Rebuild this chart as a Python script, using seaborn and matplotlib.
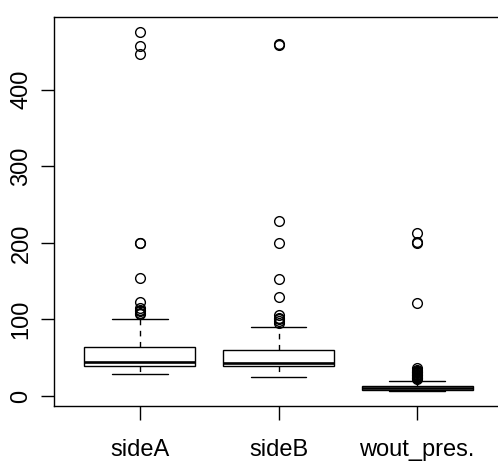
import numpy as np
import pandas as pd
import matplotlib
matplotlib.use("Agg")
import matplotlib.pyplot as plt
import seaborn as sns

# ---- data ----
categories = ["sideA", "sideB", "wout_pres."]

side_a = [29, 31, 33, 34, 35, 35.5, 36, 36.5, 37, 37, 37.5, 38, 38, 38.2, 38.4, 38.6,
          39, 39.5, 40, 40.5, 41, 41.5, 42, 42.5, 43, 43, 43.5, 44, 44, 44.2, 44.5,
          46, 48, 50, 52, 54, 55, 56, 57, 58, 59, 60, 61, 62, 63, 64,
          72, 85, 101,
          106.5, 108, 110.8, 113, 115.6, 123, 154, 200, 200, 447, 457, 476]

side_b = [24.8, 28, 31, 33, 35, 36, 36.5, 37, 37.5, 37.8, 38, 38.2, 38.3, 38.4, 38.5, 38.7,
          39, 39.3, 39.6, 40, 40.3, 40.6, 41, 41.3, 41.6, 42, 42.2, 42.4, 42.6, 42.8, 43,
          44, 45, 46.5, 48, 49.5, 51, 52, 53, 54, 55, 56, 57, 58, 59, 60,
          70, 78, 85, 90,
          96, 98, 100, 102.5, 106, 129, 153, 200, 229, 458, 460]

wout_pres = [7, 7.1, 7.2, 7.3, 7.4, 7.5, 7.6, 7.7, 7.8, 7.9, 8, 8, 8.1, 8.1, 8.2, 8.2, 8.3, 8.3, 8.4, 8.4, 8.5,
             8.6, 8.7, 8.8, 8.9, 9, 9, 9.1, 9.2, 9.3, 9.4, 9.5, 9.5, 9.6, 9.6, 9.7, 9.8, 9.8, 9.9, 9.9, 10,
             10.2, 10.4, 10.5, 10.7, 10.8, 11, 11.1, 11.2, 11.3, 11.4, 11.5, 11.6, 11.8, 11.9, 12, 12.1, 12.3, 12.5, 12.6, 12.8,
             15, 19,
             22, 23, 24, 25, 26, 27, 28, 29, 30, 31, 32, 33, 34, 36, 121, 200, 201, 213]

y_ticks = [0, 100, 200, 300, 400]
y_tick_labels = ["0", "100", "200", "300", "400"]

df = pd.DataFrame({
    "group": [categories[0]] * len(side_a) + [categories[1]] * len(side_b) + [categories[2]] * len(wout_pres),
    "value": side_a + side_b + wout_pres,
})

sns.set_theme(style="ticks")
plt.rcParams['font.family'] = ['Liberation Sans', 'DejaVu Sans']

W, H = 498, 461
fig = plt.figure(figsize=(W / 100, H / 100), dpi=100)
fig.patch.set_facecolor("white")
ax = fig.add_axes([54 / W, (H - 406) / H, 449 / W, 389 / H])
ax.set_facecolor("white")

sns.boxplot(data=df, x="group", y="value", order=categories, ax=ax,
            color="white", linecolor="black", linewidth=1.0, width=0.8, whis=1.5,
            whiskerprops=dict(linestyle=(0, (4, 4))),
            medianprops=dict(linewidth=1.9),
            flierprops=dict(marker="o", markersize=7, markerfacecolor="none",
                            markeredgecolor="black", markeredgewidth=1.0))

ax.set_xlim(-0.62, 2.62)
ax.set_ylim(-13, 495)
ax.set_xlabel("")
ax.set_ylabel("")
ax.set_yticks(y_ticks)
ax.set_yticklabels(y_tick_labels, rotation=90, va="center", fontsize=17)
ax.tick_params(axis="y", length=9.5, width=1, color="black", pad=6, labelcolor="black")
ax.tick_params(axis="x", length=10, width=1, color="black", pad=13.5, labelsize=17, labelcolor="black")
for s in ax.spines.values():
    s.set_color("black")
    s.set_linewidth(1.0)
ax.spines["right"].set_visible(False)

fig.savefig("out.png", dpi=100, facecolor="white")
